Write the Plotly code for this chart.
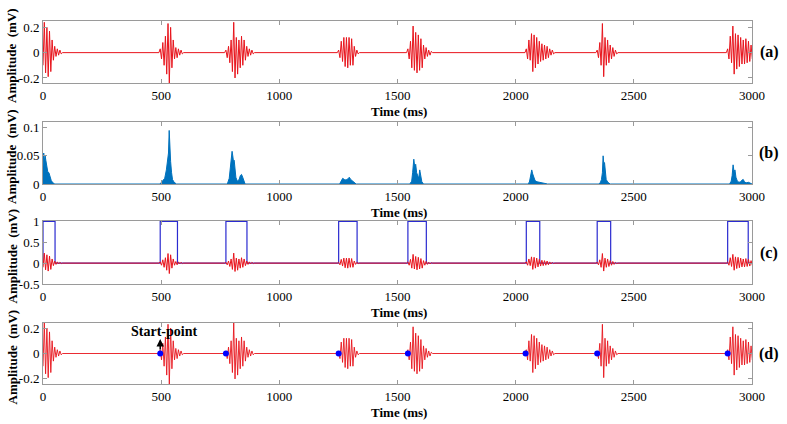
from plotly.subplots import make_subplots
import plotly.graph_objects as go

# heart sound bursts: onset (ms) and the successive extrema
step_ms = 5.5
burst_onsets = [0, 496, 774, 1251, 1544, 2045, 2345, 2897]
burst_peaks = [
    [-0.1, 0.24, -0.16, 0.2, -0.19, 0.17, -0.15, 0.1, -0.06, 0.05, -0.03, 0.03, -0.02, 0.02, -0.01],
    [0.03, -0.05, 0.08, -0.1, 0.13, -0.17, 0.23, -0.25, 0.2, -0.12, 0.1, -0.05, 0.04, -0.04, 0.03, -0.02, 0.02, -0.01],
    [0.02, -0.04, 0.05, -0.08, 0.1, -0.15, 0.24, -0.2, 0.12, -0.17, 0.1, -0.12, 0.13, -0.1, 0.1, -0.06, 0.05, -0.03, 0.03, -0.02, 0.02, -0.01],
    [0.02, -0.04, 0.09, -0.07, 0.12, -0.11, 0.12, -0.12, 0.12, -0.1, 0.11, -0.1, 0.05, -0.03, 0.02, -0.01],
    [0.03, -0.05, 0.09, -0.12, 0.21, -0.14, 0.16, -0.16, 0.14, -0.14, 0.11, -0.12, 0.06, -0.05, 0.04, -0.03, 0.02, -0.02, 0.01],
    [0.03, -0.05, 0.1, -0.06, 0.15, -0.15, 0.14, -0.12, 0.12, -0.09, 0.09, -0.07, 0.07, -0.06, 0.06, -0.05, 0.05, -0.04, 0.03, -0.02, 0.02, -0.01],
    [0.02, -0.04, 0.08, -0.1, 0.23, -0.19, 0.12, -0.1, 0.1, -0.08, 0.06, -0.05, 0.04, -0.03, 0.02, -0.01],
    [0.03, -0.05, 0.13, -0.08, 0.21, -0.17, 0.15, -0.13, 0.14, -0.11, 0.12, -0.09, 0.1, -0.09, 0.11, -0.08, 0.09, -0.07, 0.06, -0.05],
]

# envelope (panel b), read as (time, value) pairs per burst
env_times = [
    [0, 3, 6, 9, 12, 16, 20, 25, 30, 35, 42, 50],
    [495, 505, 515, 522, 527, 531, 534, 537, 540, 544, 548, 555, 565],
    [780, 788, 793, 797, 800, 803, 806, 809, 812, 816, 822, 830, 835, 840, 845, 850, 855],
    [1255, 1262, 1268, 1275, 1282, 1290, 1296, 1302, 1310, 1318, 1325],
    [1552, 1560, 1564, 1569, 1573, 1577, 1581, 1586, 1590, 1594, 1598, 1603, 1610],
    [2050, 2058, 2063, 2068, 2072, 2076, 2082, 2090, 2100, 2110, 2125, 2135],
    [2350, 2358, 2363, 2367, 2370, 2373, 2376, 2379, 2383, 2390, 2400],
    [2905, 2912, 2916, 2920, 2924, 2928, 2932, 2938, 2945, 2952, 2958, 2963, 2968, 2975, 2985, 2995, 3000],
]
env_values = [
    [0.03, 0.055, 0.04, 0.05, 0.042, 0.03, 0.022, 0.02, 0.012, 0.006, 0.002, 0],
    [0, 0.005, 0.01, 0.025, 0.05, 0.055, 0.095, 0.06, 0.04, 0.02, 0.008, 0.003, 0],
    [0, 0.01, 0.03, 0.045, 0.058, 0.05, 0.04, 0.042, 0.02, 0.012, 0.005, 0.008, 0.015, 0.017, 0.012, 0.004, 0],
    [0, 0.006, 0.01, 0.008, 0.007, 0.009, 0.012, 0.008, 0.005, 0.002, 0],
    [0, 0.005, 0.02, 0.044, 0.03, 0.035, 0.02, 0.012, 0.01, 0.025, 0.015, 0.004, 0],
    [0, 0.003, 0.012, 0.025, 0.018, 0.012, 0.006, 0.004, 0.003, 0.002, 0.001, 0],
    [0, 0.002, 0.008, 0.02, 0.05, 0.035, 0.038, 0.02, 0.008, 0.003, 0],
    [0, 0.005, 0.015, 0.034, 0.022, 0.025, 0.012, 0.005, 0.003, 0.004, 0.007, 0.008, 0.004, 0.002, 0.003, 0.001, 0],
]

# segmentation windows (panel c) and detected start points (panel d)
win_start = [0, 496, 774, 1251, 1544, 2045, 2345, 2897]
win_end = [51, 569, 863, 1329, 1622, 2102, 2402, 2984]
start_points = [496, 774, 1251, 1544, 2042, 2345, 2897]

# build the traces; the signal rests on zero between bursts
sig_t, sig_v = [], []
for onset, peaks in zip(burst_onsets, burst_peaks):
    if onset > 0:
        sig_t.append(onset - step_ms)
        sig_v.append(0)
    for k, v in enumerate(peaks):
        sig_t.append(onset + k * step_ms)
        sig_v.append(v)
    sig_t.append(onset + len(peaks) * step_ms)
    sig_v.append(0)

env_t, env_v = [], []
for tt, vv in zip(env_times, env_values):
    env_t += tt
    env_v += vv

win_t, win_v = [], []
for s, e in zip(win_start, win_end):
    win_t += [s, s, e, e]
    win_v += [0, 1, 1, 0]
win_t.append(3000)
win_v.append(0)

RED = "#E8141C"
SERIF = "Liberation Serif"

fig = make_subplots(rows=4, cols=1)

fig.add_trace(go.Scatter(x=sig_t, y=sig_v, mode="lines", line=dict(color=RED, width=1)), row=1, col=1)

fig.add_trace(go.Scatter(x=env_t, y=env_v, mode="lines", fill="tozeroy",
                         line=dict(color="#0072BD", width=1), fillcolor="#0072BD"), row=2, col=1)

fig.add_trace(go.Scatter(x=win_t, y=win_v, mode="lines", line=dict(color="#2B2BD0", width=1.2)), row=3, col=1)
fig.add_trace(go.Scatter(x=sig_t, y=sig_v, mode="lines", line=dict(color=RED, width=1)), row=3, col=1)

fig.add_trace(go.Scatter(x=sig_t, y=sig_v, mode="lines", line=dict(color=RED, width=0.9)), row=4, col=1)
fig.add_trace(go.Scatter(x=start_points, y=[0] * len(start_points), mode="markers",
                         marker=dict(color="#0000FF", size=6)), row=4, col=1)

# panel placement, given in pixels of the 787x424 page
W, H = 787, 424


def px(x):
    return x / W


def py(y):
    return 1 - y / H


panels = [(21, 83), (122, 184), (221, 284), (323, 384)]
y_ranges = [[-0.24, 0.25], [0, 0.11], [-0.5, 1.01], [-0.24, 0.24]]
y_ticks = [[-0.2, 0, 0.2], [0, 0.05, 0.1], [-0.5, 0, 0.5, 1], [-0.2, 0, 0.2]]
y_labels = [["-0.2", "0", "0.2"], ["0", "0.05", "0.1"], ["-0.5", "0", "0.5", "1"], ["-0.2", "0", "0.2"]]
tags = ["(a)", "(b)", "(c)", "(d)"]

axis_style = dict(showline=True, linecolor="#9A9A9A", linewidth=1, mirror="ticks", automargin=False,
                  ticks="inside", ticklen=4, tickcolor="#9A9A9A", showgrid=False, zeroline=False,
                  tickfont=dict(family=SERIF, size=13, color="black"))
centered = dict(xref="paper", yref="paper", xanchor="center", yanchor="middle", showarrow=False)

annotations = []
for i, (top, bottom) in enumerate(panels):
    r = i + 1
    fig.update_xaxes(domain=[px(43), px(752)], range=[0, 3000], tickvals=[0, 500, 1000, 1500, 2000, 2500, 3000],
                     **axis_style, row=r, col=1)
    fig.update_yaxes(domain=[py(bottom), py(top)], range=y_ranges[i], tickvals=y_ticks[i],
                     ticktext=y_labels[i], **axis_style, row=r, col=1)
    mid = (top + bottom) / 2
    annotations.append(dict(text="<b>Time (ms)</b>", x=px(399), y=py(bottom + 28), **centered,
                            font=dict(family=SERIF, size=13, color="black")))
    annotations.append(dict(text="<b>Amplitude  (mV)</b>", x=px(12), y=py(mid + 4), textangle=-90, **centered,
                            font=dict(family=SERIF, size=13, color="black")))
    annotations.append(dict(text="<b>" + tags[i] + "</b>", x=px(769), y=py(mid), **centered,
                            font=dict(family=SERIF, size=16, color="black")))

# start-point arrow and label
annotations.append(dict(text="", x=496, y=0.115, ax=496, ay=0.02, xref="x4", yref="y4", axref="x4", ayref="y4",
                        showarrow=True, arrowhead=2, arrowsize=1, arrowwidth=1.5, arrowcolor="black"))
annotations.append(dict(text="<b>Start-point</b>", x=513, y=0.17, xref="x4", yref="y4", showarrow=False,
                        xanchor="center", yanchor="middle", font=dict(family=SERIF, size=14, color="black")))

fig.update_layout(showlegend=False, width=W, height=H,
                  margin=dict(l=0, r=0, t=0, b=0, pad=0, autoexpand=False),
                  plot_bgcolor="white", paper_bgcolor="white", annotations=annotations)

# drop the browser's default body margin so the figure fills the window
fig.write_html("out.html", config={"displayModeBar": False},
               post_script="document.body.style.margin = '0';")
